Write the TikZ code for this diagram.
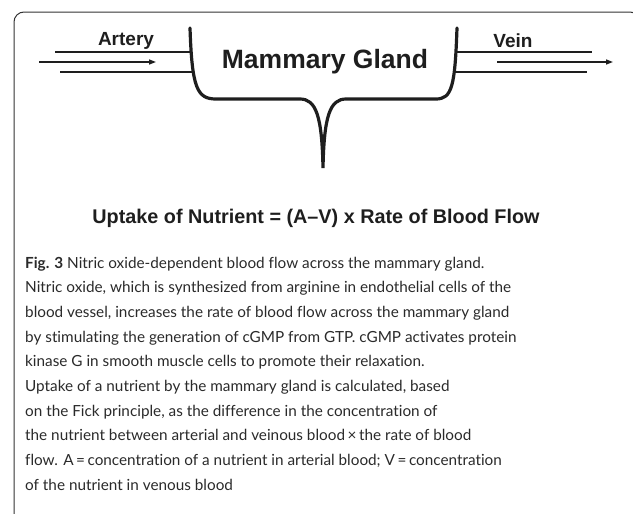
\documentclass[tikz,border=0pt]{standalone}
\usepackage{fontspec}
\setmainfont{Liberation Sans}
\newfontfamily\capfont[Ligatures=NoCommon]{Lato}
\usepackage{tikz}
\usetikzlibrary{arrows.meta,positioning,calc}
\definecolor{FrameGray}{HTML}{333333}
\definecolor{InkDark}{HTML}{1E1E1E}
\definecolor{CaptionGray}{HTML}{2A2A2A}

\begin{document}
\begin{tikzpicture}[x=1pt,y=-1pt,
  wall/.style={draw=InkDark,line width=1.4pt},
  flow/.style={-{Triangle[length=7pt,width=5pt]},draw=InkDark,line width=1.4pt},
  gland/.style={draw=InkDark,line width=3.2pt,line cap=round},
  lbl/.style={font=\bfseries\fontsize{19}{22}\selectfont,text=InkDark,inner sep=0pt}
]
\useasboundingbox (0,0) rectangle (633,514);
\begin{scope}
\clip (0,0) rectangle (633,514);
\draw[FrameGray,line width=1pt,rounded corners=10pt] (14,516) |- (640,12) -- (640,516);
\end{scope}
% gland outline
\coordinate (gtopL) at (190,28);
\coordinate (gtopR) at (457,28);
\coordinate (cusp) at (323,168);
\draw[gland] (gtopL) .. controls (192,88) and (197,99) .. (216,99) -- (300,99)
  .. controls (316,99) and (322,116) .. (cusp)
  .. controls (324,116) and (330,99) .. (346,99) -- (436,99)
  .. controls (452,99) and (455,86) .. (gtopR);
\node[lbl,font=\bfseries\fontsize{26.5}{30}\selectfont] (gland) at (325,62) {Mammary Gland};
% artery side
\node[lbl] (artery) at (126,41) {Artery};
\coordinate (a1s) at (55,52);   \coordinate (a1e) at (191,52);
\coordinate (a2s) at (39,62);   \coordinate (a2e) at (156,62);
\coordinate (a3s) at (60,72);   \coordinate (a3e) at (192,72);
\draw[wall] (a1s) -- (a1e);
\draw[flow] (a2s) -- (a2e);
\draw[wall] (a3s) -- (a3e);
% vein side
\node[lbl] (vein) at (513,41) {Vein};
\coordinate (v1s) at (457,52);  \coordinate (v1e) at (592,52);
\coordinate (v2s) at (497,62);  \coordinate (v2e) at (613,62);
\coordinate (v3s) at (456,72);  \coordinate (v3e) at (587,72);
\draw[wall] (v1s) -- (v1e);
\draw[flow] (v2s) -- (v2e);
\draw[wall] (v3s) -- (v3e);
% equation
\node[lbl,font=\bfseries\fontsize{19.8}{22}\selectfont] (uptake) at (316,218) {Uptake of Nutrient = (A–V) x Rate of Blood Flow};
% caption
\node[anchor=base west,inner sep=0pt,align=left,text=CaptionGray,
  font=\capfont\fontsize{15.3}{24.7}\selectfont] (caption) at (25,490.3)
  {{\bfseries Fig. 3} Nitric oxide-dependent blood flow across the mammary gland.\\
   Nitric oxide, which is synthesized from arginine in endothelial cells of the\\
   blood vessel, increases the rate of blood flow across the mammary gland\\
   by stimulating the generation of cGMP from GTP. cGMP activates protein\\
   kinase G in smooth muscle cells to promote their relaxation.\\
   Uptake of a nutrient by the mammary gland is calculated, based\\
   on the Fick principle, as the difference in the concentration of\\
   the nutrient between arterial and veinous blood\,×\,the rate of blood\\
   flow. A\,=\,concentration of a nutrient in arterial blood; V\,=\,concentration\\
   of the nutrient in venous blood};
\end{tikzpicture}
\end{document}
